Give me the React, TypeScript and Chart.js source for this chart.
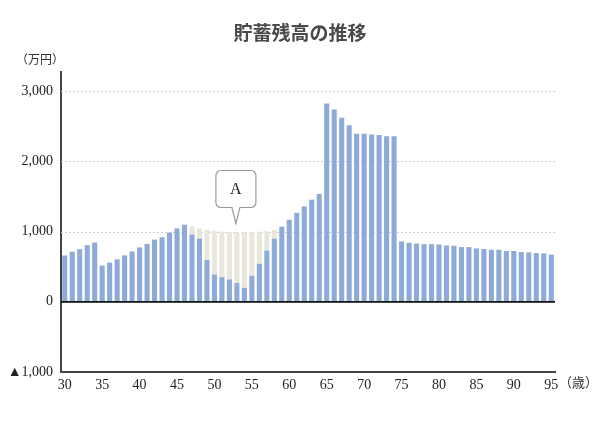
import { useEffect, useRef } from "react";
import { Chart, registerables } from "chart.js";

Chart.register(...registerables);

const TITLE = "貯蓄残高の推移";
const Y_UNIT = "（万円）";
const X_UNIT = "（歳）";
const CALLOUT_TEXT = "A";
const CALLOUT_AGE = 53;
const CALLOUT_VALUE = 1116;

const AGES = [
  30, 31, 32, 33, 34, 35, 36, 37, 38, 39, 40, 41, 42, 43, 44, 45, 46, 47, 48, 49, 50, 51,
  52, 53, 54, 55, 56, 57, 58, 59, 60, 61, 62, 63, 64, 65, 66, 67, 68, 69, 70, 71, 72, 73,
  74, 75, 76, 77, 78, 79, 80, 81, 82, 83, 84, 85, 86, 87, 88, 89, 90, 91, 92, 93, 94, 95,
];

// 貯蓄残高（万円）
const SAVINGS = [
  660, 714, 750, 807, 845, 517, 559, 606, 662, 718, 775, 826, 887, 920, 986, 1047, 1099,
  960, 901, 596, 390, 352, 319, 268, 200, 371, 543, 730, 899, 1070, 1169, 1268, 1360,
  1455, 1538, 2827, 2742, 2624, 2517, 2394, 2394, 2385, 2376, 2360, 2360, 860, 841, 831,
  822, 822, 817, 803, 799, 780, 780, 761, 752, 742, 742, 724, 724, 710, 705, 695, 691, 672,
];

// 減った分（47〜58歳）の元の水準
const GAP_AGES = [47, 48, 49, 50, 51, 52, 53, 54, 55, 56, 57, 58];
const GAP_TOTAL = [1075, 1045, 1025, 1010, 1000, 995, 990, 990, 995, 1000, 1010, 1025];

const Y_TICKS = [-1000, 0, 1000, 2000, 3000];

const SERIF = "'Liberation Serif', 'DejaVu Serif', 'Noto Sans CJK JP', serif";

const gapData = AGES.map((age, i) => {
  const k = GAP_AGES.indexOf(age);
  return k < 0 ? 0 : GAP_TOTAL[k] - SAVINGS[i];
});

const overlay = {
  id: "overlay",
  beforeDatasetsDraw(chart: any) {
    const { ctx, chartArea, scales } = chart;
    const y = scales.y;
    ctx.save();
    ctx.strokeStyle = "#cfcfcf";
    ctx.lineWidth = 1;
    ctx.setLineDash([2, 2]);
    Y_TICKS.filter((v) => v > 0).forEach((v) => {
      const py = Math.round(y.getPixelForValue(v)) + 0.5;
      ctx.beginPath();
      ctx.moveTo(chartArea.left, py);
      ctx.lineTo(chartArea.right, py);
      ctx.stroke();
    });
    ctx.restore();
  },
  afterDatasetsDraw(chart: any) {
    const { ctx, chartArea, scales } = chart;
    const x = scales.x;
    const y = scales.y;
    ctx.save();
    // 0 line
    const y0 = y.getPixelForValue(0);
    ctx.strokeStyle = "#111";
    ctx.lineWidth = 1.8;
    ctx.beginPath();
    ctx.moveTo(chartArea.left, y0);
    ctx.lineTo(chartArea.right, y0);
    ctx.stroke();

    // title & units
    ctx.fillStyle = "#4a4a4a";
    ctx.textAlign = "center";
    ctx.textBaseline = "middle";
    ctx.font = "bold 19px 'Noto Sans CJK JP', sans-serif";
    ctx.fillText(TITLE, chart.width / 2, 33);
    ctx.fillStyle = "#333";
    ctx.font = "12px " + SERIF;
    ctx.fillText(Y_UNIT, chartArea.left - 21, chartArea.top - 11);
    ctx.textAlign = "left";
    ctx.font = "13px " + SERIF;
    ctx.fillText(X_UNIT, chartArea.right + 4, chartArea.bottom + 12);

    // callout
    const cx = x.getPixelForValue(AGES.indexOf(CALLOUT_AGE)) - 1;
    const tipY = y.getPixelForValue(CALLOUT_VALUE);
    const w = 40;
    const h = 37;
    const r = 5;
    const bottom = tipY - 16;
    const top = bottom - h;
    const left = cx - w / 2;
    const right = cx + w / 2;
    ctx.beginPath();
    ctx.moveTo(left + r, top);
    ctx.lineTo(right - r, top);
    ctx.arcTo(right, top, right, top + r, r);
    ctx.lineTo(right, bottom - r);
    ctx.arcTo(right, bottom, right - r, bottom, r);
    ctx.lineTo(cx + 4, bottom);
    ctx.lineTo(cx, tipY);
    ctx.lineTo(cx - 4, bottom);
    ctx.lineTo(left + r, bottom);
    ctx.arcTo(left, bottom, left, bottom - r, r);
    ctx.lineTo(left, top + r);
    ctx.arcTo(left, top, left + r, top, r);
    ctx.closePath();
    ctx.fillStyle = "#fff";
    ctx.fill();
    ctx.strokeStyle = "#9a9a9a";
    ctx.lineWidth = 1.2;
    ctx.stroke();
    ctx.fillStyle = "#222";
    ctx.textAlign = "center";
    ctx.font = "16px " + SERIF;
    ctx.fillText(CALLOUT_TEXT, cx, (top + bottom) / 2 + 1);
    ctx.restore();
  },
};

export default function App() {
  const canvasRef = useRef<HTMLCanvasElement | null>(null);

  useEffect(() => {
    document.body.style.margin = "0";
    if (!canvasRef.current) return;
    const chart = new Chart(canvasRef.current, {
      type: "bar",
      data: {
        labels: AGES.map(String),
        datasets: [
          {
            label: "貯蓄残高",
            data: SAVINGS,
            backgroundColor: "#8eaad9",
            barPercentage: 0.68,
            categoryPercentage: 1,
          },
          {
            label: "減少分",
            data: gapData,
            backgroundColor: "#e9e7db",
            barPercentage: 0.68,
            categoryPercentage: 1,
          },
        ],
      },
      options: {
        animation: false,
        responsive: true,
        maintainAspectRatio: false,
        layout: { padding: { top: 72, right: 45, left: 0, bottom: 0 } },
        plugins: {
          legend: { display: false },
          tooltip: { enabled: false },
          title: { display: false },
        },
        scales: {
          x: {
            stacked: true,
            grid: { display: false, drawTicks: false },
            border: { color: "#444", width: 2 },
            ticks: {
              autoSkip: false,
              maxRotation: 0,
              padding: 5,
              color: "#222",
              font: { family: SERIF, size: 14 },
              callback: (_v: any, i: number) => (AGES[i] % 5 === 0 ? String(AGES[i]) : ""),
            },
            afterFit: (scale: any) => {
              scale.height = 52;
            },
          },
          y: {
            stacked: true,
            min: -1000,
            max: 3275,
            grid: { drawOnChartArea: false, drawTicks: false },
            border: { color: "#444", width: 2 },
            afterBuildTicks: (scale: any) => {
              scale.ticks = Y_TICKS.map((value) => ({ value }));
            },
            ticks: {
              padding: 8,
              color: "#222",
              font: { family: SERIF, size: 14 },
              callback: (v: any) =>
                v < 0 ? "▲" + Math.abs(v).toLocaleString("en-US") : Number(v).toLocaleString("en-US"),
            },
            afterFit: (scale: any) => {
              scale.width = 61;
            },
          },
        },
      },
      plugins: [overlay],
    });
    return () => chart.destroy();
  }, []);

  return (
    <div style={{ width: "600px", height: "424px", position: "relative" }}>
      <canvas ref={canvasRef} />
    </div>
  );
}
